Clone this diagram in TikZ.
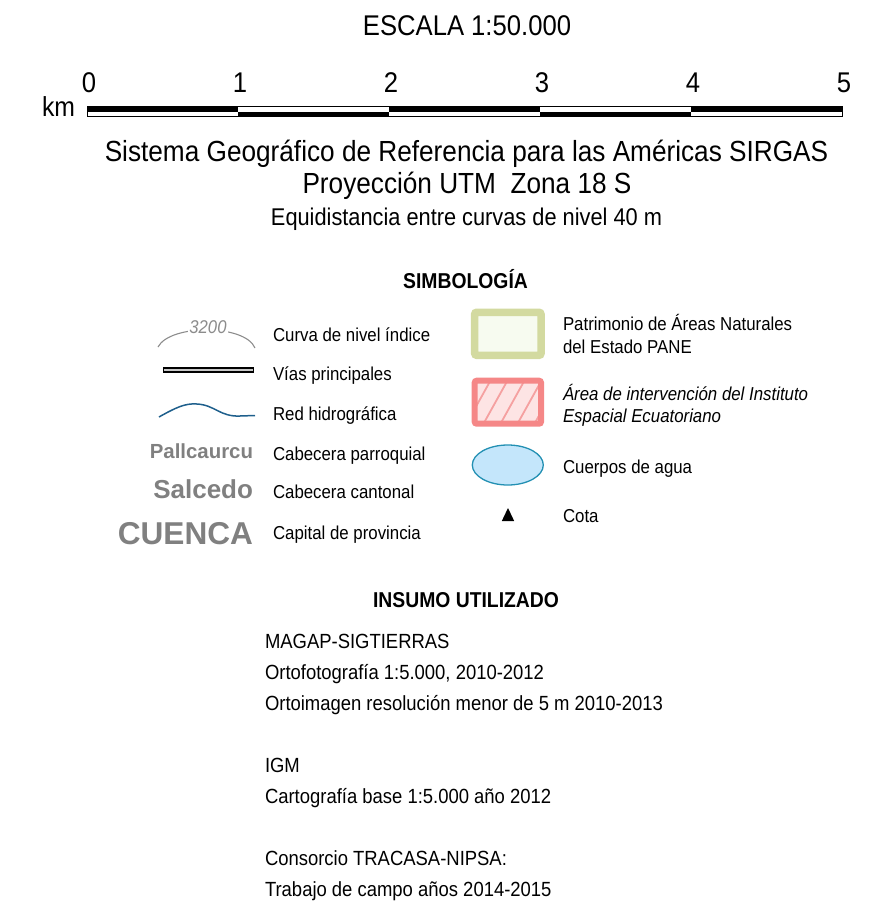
\documentclass[tikz,border=0pt]{standalone}
\usepackage{fontspec}
\setmainfont[FakeStretch=0.9]{Liberation Sans}
\newfontfamily\widefont{Liberation Sans}
\newcommand\fsz[1]{\fontsize{#1pt}{#1pt}\selectfont}
\definecolor{labgray}{RGB}{128,128,128}
\definecolor{contgray}{RGB}{140,140,140}
\definecolor{riverblue}{RGB}{30,95,140}
\definecolor{paneborder}{RGB}{211,218,160}
\definecolor{panefill}{RGB}{247,251,240}
\definecolor{redborder}{RGB}{245,135,135}
\definecolor{redfill}{RGB}{253,228,228}
\definecolor{redhatch}{RGB}{245,160,160}
\definecolor{waterfill}{RGB}{196,230,251}
\definecolor{waterborder}{RGB}{35,144,179}
\definecolor{roadmid}{RGB}{200,200,200}
\begin{document}
\begin{tikzpicture}[x=1pt,y=-1pt,
  every node/.style={inner sep=0pt,outer sep=0pt},
  title/.style={anchor=base,font=\fsz{29.1}},
  numlbl/.style={anchor=base,font=\fsz{28.5}},
  head/.style={anchor=base,font=\fsz{21.5}\bfseries},
  lbl/.style={anchor=base west,font=\fsz{18.7}},
  ilbl/.style={anchor=base west,font=\fsz{18.7}\itshape},
  glbl/.style={anchor=base east,text=labgray,font=\widefont\bfseries},
  body/.style={anchor=base west,font=\fsz{20.5}}]
\useasboundingbox (0,0) rectangle (892,921);

% ---- scale
\node[numlbl] (escala) at (467,35) {ESCALA 1:50.000};
\foreach \i/\lab in {0/0,1/1,2/2,3/3,4/4,5/5}{
  \node[numlbl] (n\i) at (89+151*\i,92) {\lab};
}
\node[anchor=base east,font=\fsz{27.5}] (km) at (75,116) {km};
\foreach \i in {0,2,4}{
  \fill (87+151*\i,106.5) rectangle (87+151*\i+151,111.5);
}
\foreach \i in {1,3}{
  \fill (87+151*\i,111.5) rectangle (87+151*\i+151,116.5);
}
\draw[line width=1pt] (87,106.5) rectangle (842,116.5);

\node[title] (sirgas) at (466.5,161) {Sistema Geográfico de Referencia para las Américas SIRGAS};
\node[title] (utm) at (467,193) {Proyección UTM\ \ Zona 18 S};
\node[anchor=base,font=\fsz{24.2}] (equi) at (466.5,225) {Equidistancia entre curvas de nivel 40 m};

% ---- legend
\node[head] (simb) at (465.5,288) {SIMBOLOGÍA};

% contour
\draw[contgray,line width=1.1pt] (158,347) .. controls (170,324) and (245,324) .. (255,348);
\node[font=\fsz{18.5}\itshape,text=contgray,fill=white,inner xsep=1.5pt,inner ysep=1pt,anchor=base] (c3200) at (208,333) {3200};
\node[lbl] (l1) at (273,341) {Curva de nivel índice};

% roads
\draw[line width=6pt] (163,369.5) -- (254,369.5);
\draw[line width=2pt,roadmid] (163.8,369.5) -- (253.2,369.5);
\node[lbl] (l2) at (273,380) {Vías principales};

% river
\draw[riverblue,line width=1.5pt] (159,417) .. controls (175,408) and (185,403) .. (197,404)
  .. controls (215,405) and (220,417) .. (240,416) -- (255,415.5);
\node[lbl] (l3) at (273,420) {Red hidrográfica};

\node[glbl,font=\widefont\bfseries\fsz{20.4}] (g1) at (253,458) {Pallcaurcu};
\node[lbl] (l4) at (273,460) {Cabecera parroquial};
\node[glbl,font=\widefont\bfseries\fsz{26}] (g2) at (253,498) {Salcedo};
\node[lbl] (l5) at (273,498) {Cabecera cantonal};
\node[glbl,font=\widefont\bfseries\fsz{31.6}] (g3) at (253,544) {CUENCA};
\node[lbl] (l6) at (273,539) {Capital de provincia};

% PANE
\draw[paneborder,fill=panefill,line width=7.5pt,rounded corners=2pt] (474.7,312.3) rectangle (541,355.3);
\node[lbl] (r1a) at (563,330) {Patrimonio de Áreas Naturales};
\node[lbl] (r1b) at (563,353) {del Estado PANE};

% IEE
\fill[redfill] (474.7,380.7) rectangle (541,423.7);
\begin{scope}
\clip (474.7,380.7) rectangle (541,423.7);
\foreach \k in {0,...,6}{
  \draw[redhatch,line width=1.8pt] (446+17*\k,430) -- (476+17*\k,376);
}
\end{scope}
\draw[redborder,line width=6pt,rounded corners=2pt] (474.7,380.7) rectangle (541,423.7);
\node[ilbl] (r2a) at (563,400) {Área de intervención del Instituto};
\node[ilbl] (r2b) at (563,422) {Espacial Ecuatoriano};

% water
\draw[waterborder,fill=waterfill,line width=1.3pt] (507.8,465) ellipse [x radius=35.5,y radius=20];
\node[lbl] (r3) at (563,473) {Cuerpos de agua};

% cota
\fill (501.8,521) -- (514.2,521) -- (508,508) -- cycle;
\node[lbl] (r4) at (563,522) {Cota};

% ---- insumo
\node[head] (insumo) at (466,607) {INSUMO UTILIZADO};
\node[body] (b1) at (265,648) {MAGAP-SIGTIERRAS};
\node[body] (b2) at (265,679) {Ortofotografía 1:5.000, 2010-2012};
\node[body] (b3) at (265,710) {Ortoimagen resolución menor de 5 m 2010-2013};
\node[body] (b4) at (265,772) {IGM};
\node[body] (b5) at (265,803) {Cartografía base 1:5.000 año 2012};
\node[body] (b6) at (265,865) {Consorcio TRACASA-NIPSA:};
\node[body] (b7) at (265,896) {Trabajo de campo años 2014-2015};
\end{tikzpicture}
\end{document}
